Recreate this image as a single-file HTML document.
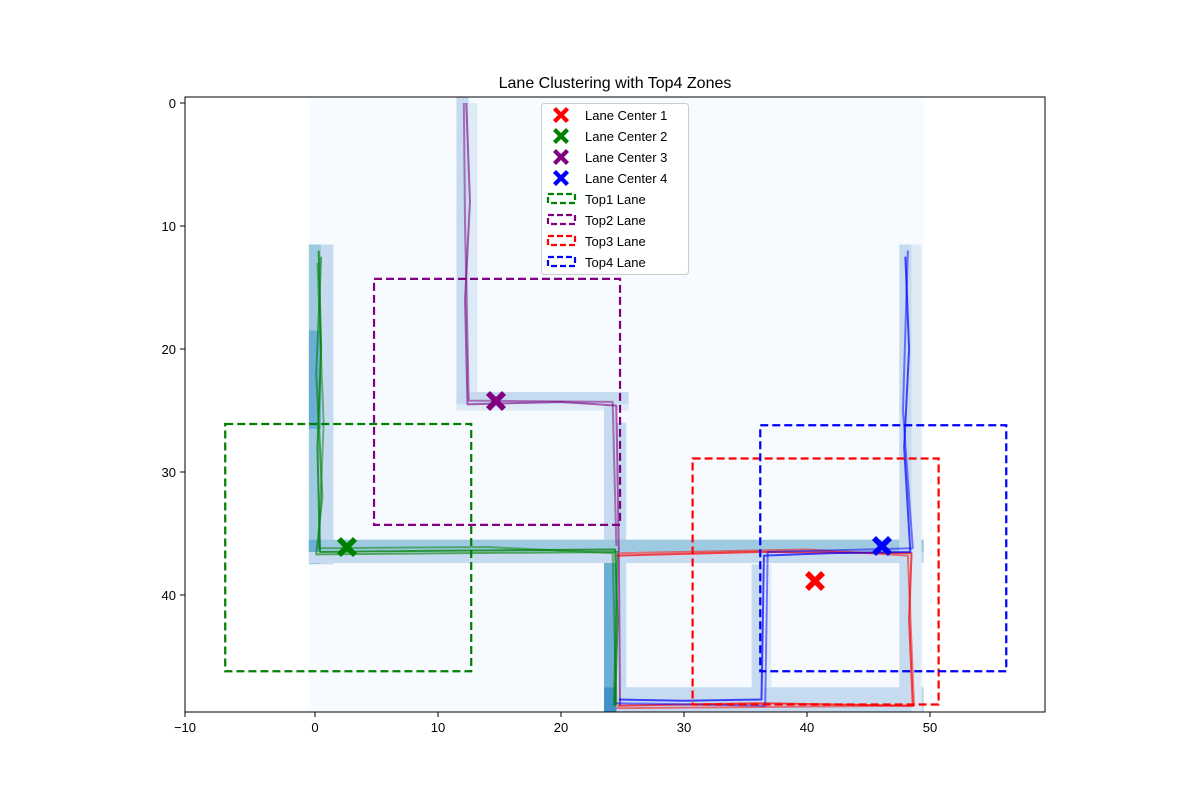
<!DOCTYPE html>
<html><head><meta charset="utf-8"><style>body{margin:0;background:#fff}svg{display:block;font-family:"Liberation Sans","DejaVu Sans",sans-serif}</style></head><body>
<svg width="1200" height="800" viewBox="0 0 1200 800">
<rect width="1200" height="800" fill="#fff"/>
<defs><clipPath id="c"><rect x="185" y="97" width="860" height="615"/></clipPath>
<path id="x" d="M-10,-6 L-6,-10 L0,-4 L6,-10 L10,-6 L4,0 L10,6 L6,10 L0,4 L-6,10 L-10,6 L-4,0 Z"/>
<path id="xs" d="M-8,-5 L-5,-8 L0,-3 L5,-8 L8,-5 L3,0 L8,5 L5,8 L0,3 L-5,8 L-8,5 L-3,0 Z"/></defs>
<g clip-path="url(#c)">
<g transform="translate(315,103) scale(12.3)">
<rect x="-0.5" y="-0.5" width="50" height="50" fill="#f7fbff"/>
<rect x="-0.5" y="11.5" width="1" height="26" fill="#9ecae1"/>
<rect x="0.5" y="11.5" width="1" height="26" fill="#c6dbef"/>
<rect x="-0.5" y="18.5" width="1" height="8" fill="#6baed6"/>
<rect x="11.5" y="-0.5" width="1" height="25" fill="#c6dbef"/>
<rect x="12.5" y="0" width="0.7" height="25" fill="#deebf7"/>
<rect x="11.5" y="23.5" width="14" height="1" fill="#c6dbef"/>
<rect x="11.5" y="24.5" width="14" height="0.5" fill="#deebf7"/>
<rect x="23.5" y="24.5" width="1" height="25" fill="#c6dbef"/>
<rect x="23.5" y="36.5" width="1" height="13" fill="#6baed6"/>
<rect x="24.5" y="26" width="0.8" height="23" fill="#c6dbef"/>
<rect x="-0.5" y="35.5" width="50" height="1" fill="#9ecae1"/>
<rect x="-0.5" y="36.5" width="50" height="0.9" fill="#c6dbef"/>
<rect x="-0.5" y="35.5" width="1" height="1" fill="#6baed6"/>
<rect x="23.5" y="47.5" width="26" height="2" fill="#c6dbef"/>
<rect x="23.5" y="47.5" width="1" height="2" fill="#4292c6"/>
<rect x="35.5" y="37.5" width="1" height="10" fill="#c6dbef"/>
<rect x="36.5" y="37.5" width="0.6" height="10" fill="#deebf7"/>
<rect x="47.5" y="11.5" width="1" height="38" fill="#c6dbef"/>
<rect x="48.5" y="11.5" width="0.8" height="38" fill="#deebf7"/>
<g fill="none" stroke-width="2" stroke-linejoin="round">
<path d="M0.3,12 L0.5,20 L0.2,28 L0.4,36.5 L10,36.4 L24.4,36.3 L24.6,42 L24.4,49" stroke="#008000" stroke-opacity="0.75" vector-effect="non-scaling-stroke"/>
<path d="M0.5,12.5 L0.1,22 L0.6,32 L0.1,36.7 L12,36.6 L24.6,36.5 L24.3,49" stroke="#008000" stroke-opacity="0.6" vector-effect="non-scaling-stroke"/>
<path d="M0.2,13 L0.7,26 L0.3,36.2 L14,36.1 L24.2,36.6 L24.5,49" stroke="#008000" stroke-opacity="0.5" vector-effect="non-scaling-stroke"/>
<path d="M12.3,0 L12.6,8 L12.2,16 L12.4,24.5 L20,24.3 L24.5,24.6 L24.7,36.5 L24.8,49" stroke="#800080" stroke-opacity="0.6" vector-effect="non-scaling-stroke"/>
<path d="M12.1,0 L12.2,10 L12.5,24.2 L24.2,24.3 L24.5,36" stroke="#800080" stroke-opacity="0.5" vector-effect="non-scaling-stroke"/>
<path d="M24.5,36.8 L36,36.5 L48.5,36.6 L48.3,42 L48.6,49 L36,48.8 L24.6,49" stroke="#ff0000" stroke-opacity="0.7" vector-effect="non-scaling-stroke"/>
<path d="M24.8,36.6 L40,36.3 L48.2,36.8 L48.7,49 L24.5,49.2" stroke="#ff0000" stroke-opacity="0.5" vector-effect="non-scaling-stroke"/>
<path d="M48,12.5 L48.3,20 L47.9,28 L48.4,36.5 L42,36.6 L36.5,36.8 L36.3,48.5 L30,48.6 L24.7,48.5" stroke="#0000ff" stroke-opacity="0.7" vector-effect="non-scaling-stroke"/>
<path d="M48.2,12 L47.8,25 L48.6,36.2 L36.8,36.5 L36.6,49 L24.5,48.8" stroke="#0000ff" stroke-opacity="0.5" vector-effect="non-scaling-stroke"/>
</g>
<g fill="none" stroke-width="2.2" stroke-dasharray="8,4">
<rect x="-7.3" y="26.1" width="20" height="20.1" stroke="#008000" vector-effect="non-scaling-stroke"/>
<rect x="4.8" y="14.3" width="20" height="20" stroke="#800080" vector-effect="non-scaling-stroke"/>
<rect x="30.7" y="28.9" width="20" height="20" stroke="#ff0000" vector-effect="non-scaling-stroke"/>
<rect x="36.2" y="26.2" width="20" height="20" stroke="#0000ff" vector-effect="non-scaling-stroke"/>
</g>
</g>
</g>
<use href="#x" x="815" y="581" fill="#ff0000"/>
<use href="#x" x="347" y="547" fill="#008000"/>
<use href="#x" x="496" y="401" fill="#800080"/>
<use href="#x" x="882" y="546" fill="#0000ff"/>
<rect x="185" y="97" width="860" height="615" fill="none" stroke="#000" stroke-width="1"/>
<g stroke="#000" stroke-width="1">
<line x1="185" y1="712" x2="185" y2="717"/><line x1="315" y1="712" x2="315" y2="717"/><line x1="438" y1="712" x2="438" y2="717"/><line x1="561" y1="712" x2="561" y2="717"/><line x1="684" y1="712" x2="684" y2="717"/><line x1="807" y1="712" x2="807" y2="717"/><line x1="930" y1="712" x2="930" y2="717"/>
<line x1="180" y1="103" x2="185" y2="103"/><line x1="180" y1="226" x2="185" y2="226"/><line x1="180" y1="349" x2="185" y2="349"/><line x1="180" y1="472" x2="185" y2="472"/><line x1="180" y1="595" x2="185" y2="595"/>
</g>
<g font-size="13" fill="#000">
<g text-anchor="middle"><text x="185" y="732">−10</text><text x="315" y="732">0</text><text x="438" y="732">10</text><text x="561" y="732">20</text><text x="684" y="732">30</text><text x="807" y="732">40</text><text x="930" y="732">50</text></g>
<g text-anchor="end"><text x="176" y="108">0</text><text x="176" y="231">10</text><text x="176" y="354">20</text><text x="176" y="477">30</text><text x="176" y="600">40</text></g>
</g>
<text x="615" y="88" font-size="16" text-anchor="middle">Lane Clustering with Top4 Zones</text>
<rect x="541.5" y="103.5" width="147" height="171" rx="3" fill="#fff" fill-opacity="0.85" stroke="#ccc"/>
<use href="#xs" x="561" y="115" fill="#ff0000"/>
<use href="#xs" x="561" y="136" fill="#008000"/>
<use href="#xs" x="561" y="157" fill="#800080"/>
<use href="#xs" x="561" y="178" fill="#0000ff"/>
<g fill="none" stroke-width="2.2" stroke-dasharray="6,3">
<rect x="548" y="194" width="27" height="9" stroke="#008000"/>
<rect x="548" y="215" width="27" height="9" stroke="#800080"/>
<rect x="548" y="236" width="27" height="9" stroke="#ff0000"/>
<rect x="548" y="257" width="27" height="9" stroke="#0000ff"/>
</g>
<g font-size="13" fill="#000">
<text x="585" y="120">Lane Center 1</text><text x="585" y="141">Lane Center 2</text><text x="585" y="162">Lane Center 3</text><text x="585" y="183">Lane Center 4</text>
<text x="585" y="204">Top1 Lane</text><text x="585" y="225">Top2 Lane</text><text x="585" y="246">Top3 Lane</text><text x="585" y="267">Top4 Lane</text>
</g>
</svg>
</body></html>
